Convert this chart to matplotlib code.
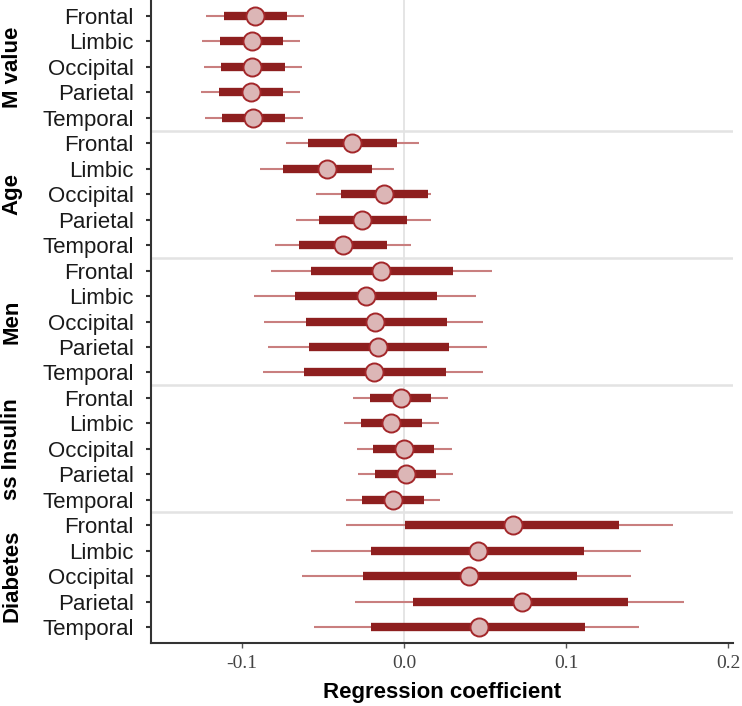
import numpy as np
import matplotlib
matplotlib.use("Agg")
import matplotlib.pyplot as plt

# groups and regions, top to bottom
groups = ["M value", "Age", "Men", "ss Insulin", "Diabetes"]
regions = ["Frontal", "Limbic", "Occipital", "Parietal", "Temporal"]

# point estimates, one row per group, regions in order
est = [
    [-0.0918, -0.0940, -0.0934, -0.0946, -0.0930],
    [-0.0319, -0.0477, -0.0123, -0.0257, -0.0378],
    [-0.0144, -0.0235, -0.0177, -0.0162, -0.0187],
    [-0.0020, -0.0080, -0.0002, 0.0010, -0.0068],
    [0.0673, 0.0458, 0.0404, 0.0730, 0.0465],
]
# inner interval (thick bar)
in_lo = [
    [-0.1111, -0.1136, -0.1130, -0.1142, -0.1125],
    [-0.0591, -0.0745, -0.0391, -0.0523, -0.0650],
    [-0.0574, -0.0673, -0.0605, -0.0586, -0.0615],
    [-0.0210, -0.0267, -0.0193, -0.0179, -0.0257],
    [0.0004, -0.0206, -0.0255, 0.0054, -0.0206],
]
in_hi = [
    [-0.0722, -0.0745, -0.0735, -0.0747, -0.0733],
    [-0.0045, -0.0198, 0.0150, 0.0020, -0.0103],
    [0.0301, 0.0206, 0.0264, 0.0278, 0.0257],
    [0.0167, 0.0113, 0.0187, 0.0198, 0.0123],
    [0.1329, 0.1113, 0.1066, 0.1381, 0.1117],
]
# outer interval (thin line)
out_lo = [
    [-0.1218, -0.1243, -0.1235, -0.1249, -0.1228],
    [-0.0728, -0.0885, -0.0543, -0.0667, -0.0794],
    [-0.0821, -0.0924, -0.0864, -0.0838, -0.0869],
    [-0.0313, -0.0372, -0.0292, -0.0282, -0.0360],
    [-0.0360, -0.0570, -0.0631, -0.0302, -0.0556],
]
out_hi = [
    [-0.0615, -0.0640, -0.0630, -0.0638, -0.0625],
    [0.0094, -0.0060, 0.0170, 0.0167, 0.0041],
    [0.0545, 0.0443, 0.0490, 0.0514, 0.0486],
    [0.0270, 0.0216, 0.0294, 0.0302, 0.0224],
    [0.1662, 0.1461, 0.1401, 0.1728, 0.1452],
]

xticks = [-0.1, 0.0, 0.1, 0.2]
xtick_labels = ["-0.1", "0.0", "0.1", "0.2"]

fig = plt.figure(figsize=(7.42, 7.06), dpi=100)
ax = fig.add_axes([151 / 742, 63 / 706, 582 / 742, 643 / 706])

n_reg = len(regions)
n_rows = len(groups) * n_reg
ypos = np.arange(n_rows)

e = np.array(est).ravel()
il = np.array(in_lo).ravel()
ih = np.array(in_hi).ravel()
ol = np.array(out_lo).ravel()
oh = np.array(out_hi).ravel()

# reference line and group separators
ax.axvline(0, color="#e0e0e0", lw=1.2, zorder=0)
for g in range(1, len(groups)):
    ax.axhline(g * n_reg - 0.5, color="#e3e3e3", lw=1.8, zorder=0)

ax.hlines(ypos, ol, oh, color="#c97f7f", lw=1.5, zorder=1)
ax.hlines(ypos, il, ih, color="#8e1f1f", lw=6, zorder=2)
ax.plot(e, ypos, "o", ms=13, mfc="#dcb6b6", mec="#a3272a", mew=1.4, zorder=3)

ax.set_xlim(-0.156, 0.203)
ax.set_ylim(n_rows - 0.37, -0.63)

ax.set_yticks(ypos)
ax.set_yticklabels(regions * len(groups), fontsize=16, color="#1a1a1a",
                   family="Liberation Sans")
ax.set_xticks(xticks)
ax.set_xticklabels(xtick_labels, fontsize=14, color="#444444",
                   family="Liberation Serif")
ax.tick_params(axis="y", length=3.5, width=1.5, color="#333333", pad=9)
ax.tick_params(axis="x", length=3.5, width=1, color="#555555", pad=5)

for s in ["top", "right"]:
    ax.spines[s].set_visible(False)
for s in ["left", "bottom"]:
    ax.spines[s].set_color("#333333")
    ax.spines[s].set_linewidth(1.5)

ax.set_xlabel("Regression coefficient", fontsize=16, fontweight="bold",
              family="Liberation Sans", labelpad=7)

# rotated group labels on the far left
for g, name in enumerate(groups):
    yc = g * n_reg + (n_reg - 1) / 2
    ydisp = ax.transData.transform((0, yc))[1]
    yfig = fig.transFigure.inverted().transform((0, ydisp))[1]
    fig.text(12 / 742, yfig, name, rotation=90, ha="center", va="center",
             fontsize=16, fontweight="bold", family="Liberation Sans")

fig.savefig("out.png", dpi=100)
